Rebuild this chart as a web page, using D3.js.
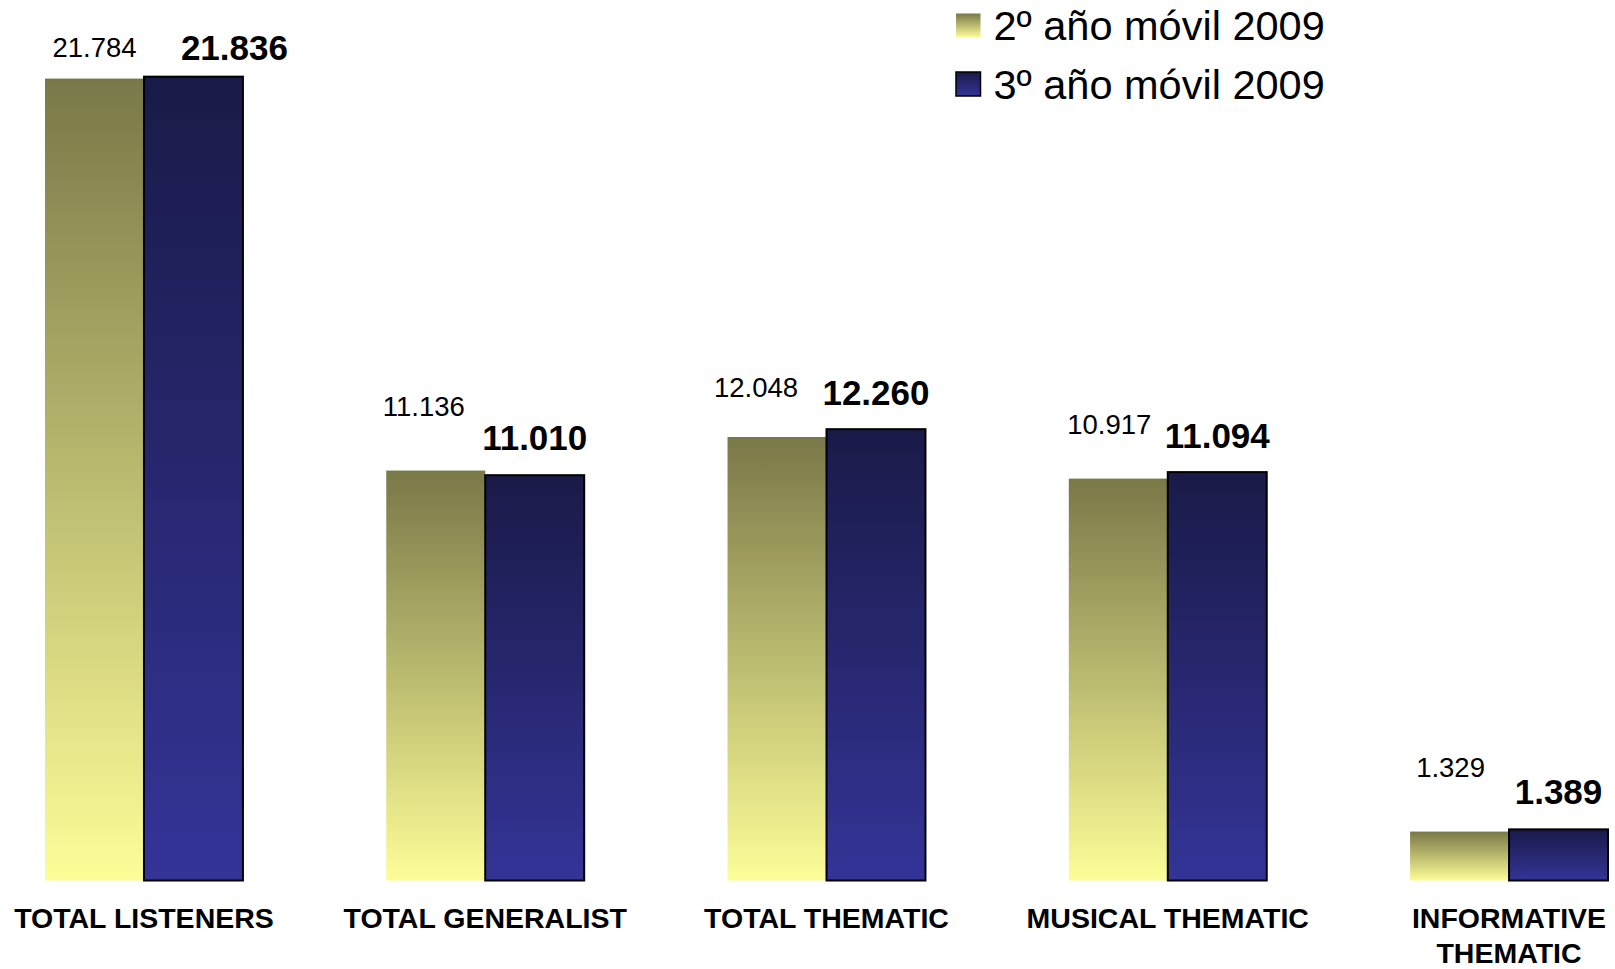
<!DOCTYPE html>
<html>
<head>
<meta charset="utf-8">
<script src="https://cdn.jsdelivr.net/npm/d3@7"></script>
<style>
  html, body { margin: 0; padding: 0; background: #ffffff; }
  svg { display: block; }
  text { font-family: "Liberation Sans", Arial, Helvetica, sans-serif; fill: #000; }
</style>
</head>
<body>
<svg id="chart" width="1615" height="969"></svg>
<script>
// ---- data ----
const categories = ["TOTAL LISTENERS", "TOTAL GENERALIST", "TOTAL THEMATIC", "MUSICAL THEMATIC", "INFORMATIVE THEMATIC"];
const categoryLines = [["TOTAL LISTENERS"], ["TOTAL GENERALIST"], ["TOTAL THEMATIC"], ["MUSICAL THEMATIC"], ["INFORMATIVE", "THEMATIC"]];
const seriesNames = ["2º año móvil 2009", "3º año móvil 2009"];
const series2 = [21784, 11136, 12048, 10917, 1329];
const series3 = [21836, 11010, 12260, 11094, 1389];
const valueLabels2 = ["21.784", "11.136", "12.048", "10.917", "1.329"];
const valueLabels3 = ["21.836", "11.010", "12.260", "11.094", "1.389"];

// ---- label placement (offsets relative to each bar, as placed in the original) ----
const labelLift = [[22, 55, 40, 45, 55], [17, 25, 24, 24, 25]];
const labelShift = [[0, -12, -21, -9, -9], [41, 0, 0, 0, 0]];

// ---- layout ----
const svg = d3.select("#chart");
const defs = svg.append("defs");

function grad(id, top, bottom) {
  const g = defs.append("linearGradient").attr("id", id)
    .attr("x1", 0).attr("y1", 0).attr("x2", 0).attr("y2", 1);
  g.append("stop").attr("offset", "0%").attr("stop-color", top);
  g.append("stop").attr("offset", "100%").attr("stop-color", bottom);
}
grad("gYellow", "#797848", "#fdfd98");
grad("gBlue", "#1a1a48", "#343498");

const fills = ["url(#gYellow)", "url(#gBlue)"];

const x0 = d3.scaleBand().domain(categories).range([45, 1608]).paddingInner(0.42).paddingOuter(0);
const x1 = d3.scaleBand().domain([0, 1]).range([0, x0.bandwidth()]).padding(0);
const y = d3.scaleLinear().domain([0, 24000]).range([880.5, -3]);

const rows = categories.map((c, i) => ({
  i,
  cat: c,
  vals: [series2[i], series3[i]],
  labels: [valueLabels2[i], valueLabels3[i]],
  lines: categoryLines[i]
}));

const groups = svg.append("g").selectAll("g.grp").data(rows).join("g")
  .attr("class", "grp")
  .attr("transform", d => `translate(${x0(d.cat)},0)`);

// bars
groups.selectAll("rect").data(d => d.vals.map((v, k) => ({ v, k }))).join("rect")
  .attr("x", d => x1(d.k))
  .attr("y", d => y(d.v))
  .attr("width", x1.bandwidth())
  .attr("height", d => y(0) - y(d.v))
  .attr("fill", d => fills[d.k])
  .attr("stroke", d => d.k === 1 ? "#000" : "none")
  .attr("stroke-width", d => d.k === 1 ? 2 : 0);

// value labels
groups.selectAll("text.val").data(d => d.vals.map((v, k) => ({ v, k, i: d.i, label: d.labels[k] }))).join("text")
  .attr("class", "val")
  .attr("x", d => x1(d.k) + x1.bandwidth() / 2 + labelShift[d.k][d.i])
  .attr("y", d => y(d.v) - labelLift[d.k][d.i])
  .attr("text-anchor", "middle")
  .attr("font-size", d => d.k === 0 ? 27.5 : 35)
  .attr("font-weight", d => d.k === 0 ? "normal" : "bold")
  .text(d => d.label);

// category labels
groups.each(function (d) {
  const t = d3.select(this).append("text")
    .attr("text-anchor", "middle")
    .attr("font-size", 28.5)
    .attr("font-weight", "bold")
    .attr("x", x0.bandwidth() / 2)
    .attr("y", 928);
  d.lines.forEach((ln, j) => {
    t.append("tspan").attr("x", x0.bandwidth() / 2).attr("dy", j === 0 ? 0 : 34.5).text(ln);
  });
});

// legend
const legend = svg.append("g").attr("transform", "translate(956,0)");
const li = legend.selectAll("g").data(seriesNames).join("g")
  .attr("transform", (d, i) => `translate(0,${i * 58.5})`);
li.append("rect")
  .attr("x", 0).attr("y", 13.5)
  .attr("width", 24.5).attr("height", 24)
  .attr("fill", (d, i) => fills[i])
  .attr("stroke", (d, i) => i === 1 ? "#000" : "none")
  .attr("stroke-width", 1.5);
li.append("text")
  .attr("x", 37.5).attr("y", 40)
  .attr("font-size", 41.5)
  .text(d => d);
</script>
</body>
</html>
